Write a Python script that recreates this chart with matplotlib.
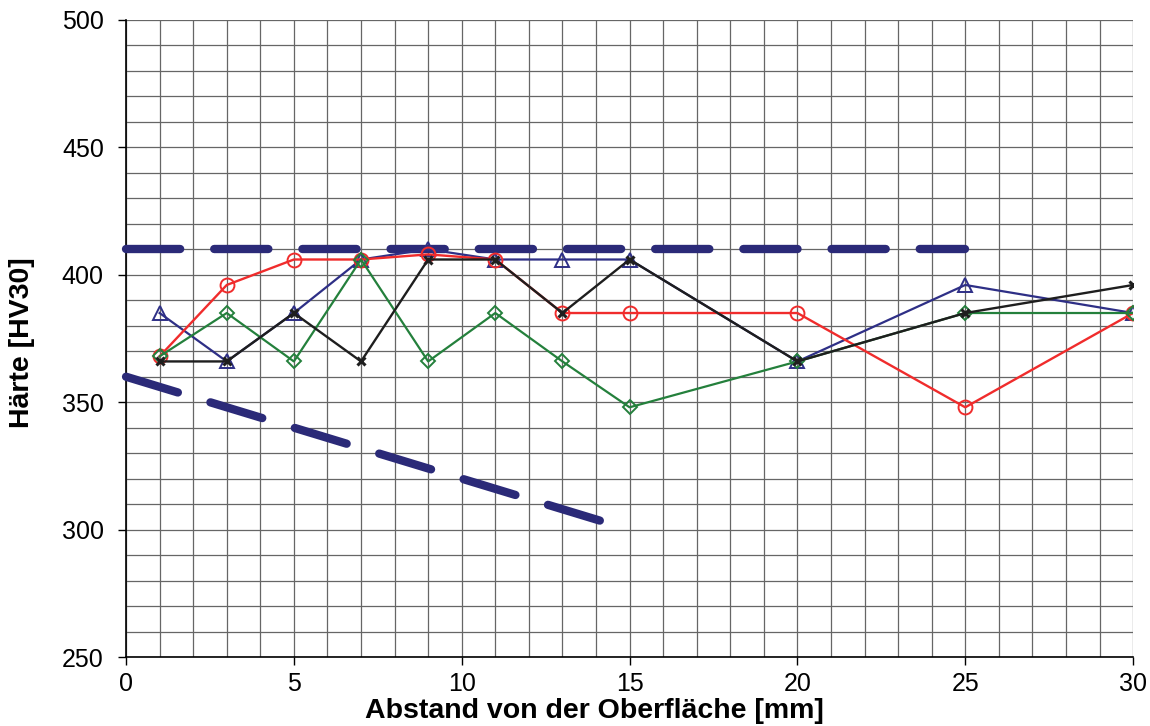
import numpy as np
import matplotlib.pyplot as plt

plt.rcParams['font.family'] = ['Liberation Sans', 'DejaVu Sans']
plt.rcParams['lines.scale_dashes'] = False

# Messpunkte
abstand = [1, 3, 5, 7, 9, 11, 13, 15, 20, 25, 30]
haerte_rot = [368, 396, 406, 406, 408, 406, 385, 385, 385, 348, 385]
haerte_blau = [385, 366, 385, 406, 410, 406, 406, 406, 366, 396, 385]
haerte_gruen = [368, 385, 366, 406, 366, 385, 366, 348, 366, 385, 385]
haerte_schwarz = [366, 366, 385, 366, 406, 406, 385, 406, 366, 385, 396]

# Grenzlinien
grenze_oben_x = [0, 25]
grenze_oben_y = [410, 410]
grenze_unten_x = [0, 15]
grenze_unten_y = [360, 300]

navy = '#2b2a78'

fig = plt.figure(figsize=(11.5, 7.26), dpi=100)
ax = fig.add_axes([0.1096, 0.095, 0.8757, 0.8775])

dash = (0, (39, 24.5))
ax.plot(grenze_oben_x, grenze_oben_y, color=navy, lw=6, linestyle=dash,
        dash_capstyle='round', zorder=3, clip_on=False)
ax.plot(grenze_unten_x, grenze_unten_y, color=navy, lw=6, linestyle=dash,
        dash_capstyle='round', zorder=3, clip_on=False)

ax.plot(abstand, haerte_blau, color='#2e2f86', lw=1.6, marker='^', ms=10,
        mfc='none', mec='#2e2f86', mew=1.4, zorder=4)
ax.plot(abstand, haerte_rot, color='#f02c2c', lw=1.7, marker='o', ms=10,
        mfc='none', mec='#f02c2c', mew=1.4, zorder=5)
ax.plot(abstand, haerte_gruen, color='#24803c', lw=1.6, marker='D', ms=7,
        mfc='none', mec='#24803c', mew=1.4, zorder=6)
ax.plot(abstand, haerte_schwarz, color='#1e1e1e', lw=1.7, marker='x', ms=5.5,
        mec='#1e1e1e', mew=2.2, zorder=7)

ax.set_xlim(0, 30)
ax.set_ylim(250, 500)
ax.set_xticks(np.arange(0, 31, 5))
ax.set_yticks(np.arange(250, 501, 50))
ax.set_xticks(np.arange(0, 31, 1), minor=True)
ax.set_yticks(np.arange(250, 501, 10), minor=True)
ax.grid(which='both', color='#666666', lw=0.9)
ax.tick_params(which='minor', length=0)
ax.tick_params(which='major', length=6, width=1, labelsize=18, pad=5)
ax.tick_params(axis='y', which='major', pad=10)
for s in ['top', 'right']:
    ax.spines[s].set_visible(False)
for s in ['left', 'bottom']:
    ax.spines[s].set_linewidth(1.2)
ax.set_axisbelow(True)

ax.set_xlabel('Abstand von der Oberfläche [mm]', fontsize=20.5, fontweight='bold', va='center')
ax.xaxis.set_label_coords(0.4647, -0.0848)
ax.set_ylabel('Härte [HV30]', fontsize=20.5, fontweight='bold', va='center')
ax.yaxis.set_label_coords(-0.1033, 0.493)

fig.savefig('out.png', dpi=100)
